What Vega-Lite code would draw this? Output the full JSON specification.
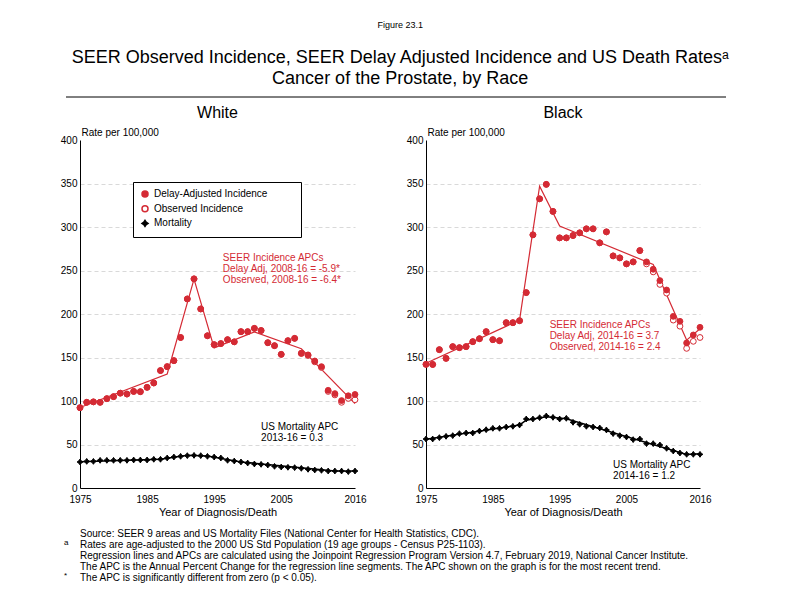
{
  "$schema": "https://vega.github.io/schema/vega-lite/v6.json",
  "padding": {"left": 60, "top": 21, "right": 5, "bottom": 5},
  "background": "white",
  "config": {
    "font": "Liberation Sans",
    "view": {"stroke": null},
    "title": {"fontWeight": "normal", "color": "black", "font": "Liberation Sans"},
    "axisX": {"ticks": false, "labelPadding": 6, "labelFontSize": 10, "labelColor": "black", "labelFlush": false, "labelOverlap": false, "titleFontSize": 11, "titleFontWeight": "normal", "titleColor": "black", "titlePadding": 2, "domainColor": "black", "grid": false},
    "axisY": {"ticks": false, "labelPadding": 3, "labelFontSize": 10, "labelColor": "black", "labelFlush": false, "labelOverlap": false, "grid": true, "gridDash": [4, 3], "gridColor": "#d9d9d9", "titleAngle": 0, "titleAlign": "left", "titleX": 1, "titleY": -5, "titleBaseline": "alphabetic", "titleFontSize": 10, "titleFontWeight": "normal", "titleColor": "black", "domainColor": "black"}
  },
  "title": {
    "text": "Figure 23.1",
    "fontSize": 9,
    "subtitle": ["SEER Observed Incidence, SEER Delay Adjusted Incidence and US Death Rates\u1d43", "Cancer of the Prostate, by Race"],
    "subtitleFontSize": 18,
    "subtitleLineHeight": 21,
    "subtitlePadding": 19,
    "subtitleColor": "black",
    "subtitleFont": "Liberation Sans",
    "anchor": "middle",
    "offset": 8
  },
  "datasets": {
    "white": [
      {"year": 1975, "Delay-Adjusted Incidence": 92.3, "Observed Incidence": 92.3, "Mortality": 29.9},
      {"year": 1976, "Delay-Adjusted Incidence": 98.5, "Observed Incidence": 98.5, "Mortality": 30.6},
      {"year": 1977, "Delay-Adjusted Incidence": 99, "Observed Incidence": 99, "Mortality": 30.6},
      {"year": 1978, "Delay-Adjusted Incidence": 98.5, "Observed Incidence": 98.5, "Mortality": 31.8},
      {"year": 1979, "Delay-Adjusted Incidence": 102.7, "Observed Incidence": 102.7, "Mortality": 31.8},
      {"year": 1980, "Delay-Adjusted Incidence": 105, "Observed Incidence": 105, "Mortality": 31.8},
      {"year": 1981, "Delay-Adjusted Incidence": 109, "Observed Incidence": 109, "Mortality": 31.8},
      {"year": 1982, "Delay-Adjusted Incidence": 108, "Observed Incidence": 108, "Mortality": 31.8},
      {"year": 1983, "Delay-Adjusted Incidence": 111, "Observed Incidence": 111, "Mortality": 32.2},
      {"year": 1984, "Delay-Adjusted Incidence": 110.7, "Observed Incidence": 110.7, "Mortality": 32.2},
      {"year": 1985, "Delay-Adjusted Incidence": 115.7, "Observed Incidence": 115.7, "Mortality": 32.2},
      {"year": 1986, "Delay-Adjusted Incidence": 120.7, "Observed Incidence": 120.7, "Mortality": 33},
      {"year": 1987, "Delay-Adjusted Incidence": 135, "Observed Incidence": 135, "Mortality": 33},
      {"year": 1988, "Delay-Adjusted Incidence": 139.5, "Observed Incidence": 139.5, "Mortality": 34.5},
      {"year": 1989, "Delay-Adjusted Incidence": 146.4, "Observed Incidence": 146.4, "Mortality": 35.6},
      {"year": 1990, "Delay-Adjusted Incidence": 173, "Observed Incidence": 173, "Mortality": 36.4},
      {"year": 1991, "Delay-Adjusted Incidence": 217.3, "Observed Incidence": 217.3, "Mortality": 37.2},
      {"year": 1992, "Delay-Adjusted Incidence": 240.4, "Observed Incidence": 240.4, "Mortality": 37.5},
      {"year": 1993, "Delay-Adjusted Incidence": 205.8, "Observed Incidence": 205.8, "Mortality": 37.2},
      {"year": 1994, "Delay-Adjusted Incidence": 175, "Observed Incidence": 175, "Mortality": 36.4},
      {"year": 1995, "Delay-Adjusted Incidence": 164.8, "Observed Incidence": 164.8, "Mortality": 35.6},
      {"year": 1996, "Delay-Adjusted Incidence": 166, "Observed Incidence": 166, "Mortality": 34.5},
      {"year": 1997, "Delay-Adjusted Incidence": 170.5, "Observed Incidence": 170.5, "Mortality": 31.8},
      {"year": 1998, "Delay-Adjusted Incidence": 168, "Observed Incidence": 168, "Mortality": 31},
      {"year": 1999, "Delay-Adjusted Incidence": 179.7, "Observed Incidence": 179.7, "Mortality": 29.9},
      {"year": 2000, "Delay-Adjusted Incidence": 179.7, "Observed Incidence": 179.7, "Mortality": 28.7},
      {"year": 2001, "Delay-Adjusted Incidence": 183.5, "Observed Incidence": 183.5, "Mortality": 27.6},
      {"year": 2002, "Delay-Adjusted Incidence": 181, "Observed Incidence": 181, "Mortality": 27.2},
      {"year": 2003, "Delay-Adjusted Incidence": 167, "Observed Incidence": 167, "Mortality": 26.4},
      {"year": 2004, "Delay-Adjusted Incidence": 163.6, "Observed Incidence": 163.6, "Mortality": 24.9},
      {"year": 2005, "Delay-Adjusted Incidence": 153.6, "Observed Incidence": 153.6, "Mortality": 24.1},
      {"year": 2006, "Delay-Adjusted Incidence": 169.3, "Observed Incidence": 169.3, "Mortality": 23.8},
      {"year": 2007, "Delay-Adjusted Incidence": 172, "Observed Incidence": 172, "Mortality": 23.4},
      {"year": 2008, "Delay-Adjusted Incidence": 155, "Observed Incidence": 154.5, "Mortality": 22.6},
      {"year": 2009, "Delay-Adjusted Incidence": 153, "Observed Incidence": 152.3, "Mortality": 21.5},
      {"year": 2010, "Delay-Adjusted Incidence": 146, "Observed Incidence": 145, "Mortality": 20.7},
      {"year": 2011, "Delay-Adjusted Incidence": 139.5, "Observed Incidence": 138.5, "Mortality": 20.3},
      {"year": 2012, "Delay-Adjusted Incidence": 112.3, "Observed Incidence": 111, "Mortality": 19.5},
      {"year": 2013, "Delay-Adjusted Incidence": 108.5, "Observed Incidence": 107, "Mortality": 19.5},
      {"year": 2014, "Delay-Adjusted Incidence": 100.5, "Observed Incidence": 98.5, "Mortality": 19.5},
      {"year": 2015, "Delay-Adjusted Incidence": 106, "Observed Incidence": 103, "Mortality": 18.8},
      {"year": 2016, "Delay-Adjusted Incidence": 107.5, "Observed Incidence": 101.5, "Mortality": 19.5}
    ],
    "white_fit": [
      {"year": 1975, "rate": 92.5}, {"year": 1988, "rate": 131}, {"year": 1992, "rate": 240},
      {"year": 1995, "rate": 161}, {"year": 2001, "rate": 179.5}, {"year": 2008, "rate": 160}, {"year": 2016, "rate": 97}
    ],
    "white_mfit": [
      {"year": 1975, "rate": 30.3}, {"year": 1987, "rate": 33}, {"year": 1991, "rate": 37.5},
      {"year": 1994, "rate": 36.8}, {"year": 1999, "rate": 30}, {"year": 2013, "rate": 19.5}, {"year": 2016, "rate": 19.6}
    ],
    "black": [
      {"year": 1975, "Delay-Adjusted Incidence": 142.1, "Observed Incidence": 142.1, "Mortality": 56.3},
      {"year": 1976, "Delay-Adjusted Incidence": 142, "Observed Incidence": 142, "Mortality": 56.3},
      {"year": 1977, "Delay-Adjusted Incidence": 159, "Observed Incidence": 159, "Mortality": 57.9},
      {"year": 1978, "Delay-Adjusted Incidence": 149, "Observed Incidence": 149, "Mortality": 59.4},
      {"year": 1979, "Delay-Adjusted Incidence": 162.5, "Observed Incidence": 162.5, "Mortality": 60.2},
      {"year": 1980, "Delay-Adjusted Incidence": 161.3, "Observed Incidence": 161.3, "Mortality": 62.5},
      {"year": 1981, "Delay-Adjusted Incidence": 162.5, "Observed Incidence": 162.5, "Mortality": 63.2},
      {"year": 1982, "Delay-Adjusted Incidence": 168.2, "Observed Incidence": 168.2, "Mortality": 63.2},
      {"year": 1983, "Delay-Adjusted Incidence": 171.6, "Observed Incidence": 171.6, "Mortality": 65.5},
      {"year": 1984, "Delay-Adjusted Incidence": 179.7, "Observed Incidence": 179.7, "Mortality": 67},
      {"year": 1985, "Delay-Adjusted Incidence": 170.5, "Observed Incidence": 170.5, "Mortality": 68.6},
      {"year": 1986, "Delay-Adjusted Incidence": 169.3, "Observed Incidence": 169.3, "Mortality": 68.6},
      {"year": 1987, "Delay-Adjusted Incidence": 190, "Observed Incidence": 190, "Mortality": 70.1},
      {"year": 1988, "Delay-Adjusted Incidence": 190, "Observed Incidence": 190, "Mortality": 70.9},
      {"year": 1989, "Delay-Adjusted Incidence": 192.3, "Observed Incidence": 192.3, "Mortality": 72.4},
      {"year": 1990, "Delay-Adjusted Incidence": 224.6, "Observed Incidence": 224.6, "Mortality": 79.3},
      {"year": 1991, "Delay-Adjusted Incidence": 291, "Observed Incidence": 291, "Mortality": 79.3},
      {"year": 1992, "Delay-Adjusted Incidence": 332.4, "Observed Incidence": 332.4, "Mortality": 80.8},
      {"year": 1993, "Delay-Adjusted Incidence": 349, "Observed Incidence": 349, "Mortality": 82.8},
      {"year": 1994, "Delay-Adjusted Incidence": 317.9, "Observed Incidence": 317.9, "Mortality": 81.2},
      {"year": 1995, "Delay-Adjusted Incidence": 287.5, "Observed Incidence": 287.5, "Mortality": 79.3},
      {"year": 1996, "Delay-Adjusted Incidence": 287.5, "Observed Incidence": 287.5, "Mortality": 80.1},
      {"year": 1997, "Delay-Adjusted Incidence": 290.2, "Observed Incidence": 290.2, "Mortality": 75.5},
      {"year": 1998, "Delay-Adjusted Incidence": 293.3, "Observed Incidence": 293.3, "Mortality": 73.2},
      {"year": 1999, "Delay-Adjusted Incidence": 297.9, "Observed Incidence": 297.9, "Mortality": 70.9},
      {"year": 2000, "Delay-Adjusted Incidence": 297.9, "Observed Incidence": 297.9, "Mortality": 70.1},
      {"year": 2001, "Delay-Adjusted Incidence": 281.8, "Observed Incidence": 281.8, "Mortality": 69},
      {"year": 2002, "Delay-Adjusted Incidence": 294.4, "Observed Incidence": 294.4, "Mortality": 66.7},
      {"year": 2003, "Delay-Adjusted Incidence": 266.8, "Observed Incidence": 266.8, "Mortality": 62.5},
      {"year": 2004, "Delay-Adjusted Incidence": 264.5, "Observed Incidence": 264.5, "Mortality": 60.2},
      {"year": 2005, "Delay-Adjusted Incidence": 257.6, "Observed Incidence": 257.6, "Mortality": 58.6},
      {"year": 2006, "Delay-Adjusted Incidence": 259.9, "Observed Incidence": 259.9, "Mortality": 55.6},
      {"year": 2007, "Delay-Adjusted Incidence": 272.9, "Observed Incidence": 272.9, "Mortality": 56.3},
      {"year": 2008, "Delay-Adjusted Incidence": 259.9, "Observed Incidence": 257.6, "Mortality": 51},
      {"year": 2009, "Delay-Adjusted Incidence": 251.4, "Observed Incidence": 248.4, "Mortality": 51},
      {"year": 2010, "Delay-Adjusted Incidence": 238.4, "Observed Incidence": 234, "Mortality": 49.4},
      {"year": 2011, "Delay-Adjusted Incidence": 227.6, "Observed Incidence": 224, "Mortality": 45.6},
      {"year": 2012, "Delay-Adjusted Incidence": 197.3, "Observed Incidence": 193, "Mortality": 42.5},
      {"year": 2013, "Delay-Adjusted Incidence": 191.6, "Observed Incidence": 186, "Mortality": 40.2},
      {"year": 2014, "Delay-Adjusted Incidence": 166.7, "Observed Incidence": 160.5, "Mortality": 38.7},
      {"year": 2015, "Delay-Adjusted Incidence": 175.9, "Observed Incidence": 168.6, "Mortality": 38.7},
      {"year": 2016, "Delay-Adjusted Incidence": 184.7, "Observed Incidence": 173, "Mortality": 38.7}
    ],
    "black_fit": [
      {"year": 1975, "rate": 143.3}, {"year": 1989, "rate": 193}, {"year": 1992, "rate": 347},
      {"year": 1995, "rate": 301}, {"year": 2009, "rate": 257}, {"year": 2014, "rate": 170}, {"year": 2016, "rate": 183}
    ],
    "black_mfit": [
      {"year": 1975, "rate": 56}, {"year": 1989, "rate": 72.5}, {"year": 1990, "rate": 78},
      {"year": 1993, "rate": 82}, {"year": 1996, "rate": 79.5}, {"year": 2014, "rate": 38.5}, {"year": 2016, "rate": 39.4}
    ],
    "notes": [
      {"line": 1, "marker": "", "note": "Source: SEER 9 areas and US Mortality Files (National Center for Health Statistics, CDC)."},
      {"line": 2, "marker": "a", "note": "Rates are age-adjusted to the 2000 US Std Population (19 age groups - Census P25-1103)."},
      {"line": 3, "marker": "", "note": "Regression lines and APCs are calculated using the Joinpoint Regression Program Version 4.7, February 2019, National Cancer Institute."},
      {"line": 4, "marker": "", "note": "The APC is the Annual Percent Change for the regression line segments. The APC shown on the graph is for the most recent trend."},
      {"line": 5, "marker": "*", "note": "The APC is significantly different from zero (p < 0.05)."}
    ]
  },
  "spacing": 7,
  "vconcat": [
    {
      "width": 660,
      "height": 1,
      "data": {"values": [{}]},
      "mark": {"type": "rule", "color": "black", "strokeWidth": 1, "clip": false},
      "encoding": {
        "x": {"datum": -14, "type": "quantitative", "scale": {"domain": [0, 660]}, "axis": null},
        "x2": {"datum": 646},
        "y": {"datum": 0, "type": "quantitative", "scale": {"domain": [0, 1]}, "axis": null}
      }
    },
    {
      "spacing": 39,
      "resolve": {"scale": {"fill": "independent", "stroke": "independent", "shape": "independent"}, "legend": {"fill": "independent", "stroke": "independent", "shape": "independent"}},
      "hconcat": [
        {
          "width": 275,
          "height": 348,
          "title": {"text": "White", "fontSize": 16, "offset": 6},
          "layer": [
            {"data": {"name": "white_fit"}, "mark": {"type": "line", "color": "#d42a34", "strokeWidth": 1.2},
             "encoding": {
               "x": {"field": "year", "type": "quantitative", "scale": {"domain": [1975, 2016], "nice": false, "zero": false},
                     "axis": {"values": [1975, 1985, 1995, 2005, 2016], "format": "d", "title": "Year of Diagnosis/Death"}},
               "y": {"field": "rate", "type": "quantitative", "scale": {"domain": [0, 400], "nice": false},
                     "axis": {"values": [0, 50, 100, 150, 200, 250, 300, 350, 400], "title": "Rate per 100,000",
                              "gridOpacity": {"condition": {"test": "datum.value === 400 || datum.value === 0", "value": 0}, "value": 1}}}
             }},
            {"data": {"name": "white_mfit"}, "mark": {"type": "line", "color": "black", "strokeWidth": 1.5},
             "encoding": {"x": {"field": "year", "type": "quantitative"}, "y": {"field": "rate", "type": "quantitative"}}},
            {
              "data": {"name": "white"},
              "transform": [{"fold": ["Observed Incidence", "Delay-Adjusted Incidence", "Mortality"], "as": ["series", "rate"]}],
              "mark": {"type": "point", "size": 34, "strokeWidth": 1, "opacity": 1},
              "encoding": {
                "x": {"field": "year", "type": "quantitative"},
                "y": {"field": "rate", "type": "quantitative"},
                "fill": {"field": "series", "type": "nominal",
                         "scale": {"domain": ["Delay-Adjusted Incidence", "Observed Incidence", "Mortality"], "range": ["#d42a34", "white", "black"]},
                         "legend": {"orient": "none", "legendX": 53, "legendY": 42, "title": "MMM", "titleColor": "transparent", "titleOrient": "right", "titlePadding": 2, "titleFontSize": 10,
                                    "labelFontSize": 10, "labelColor": "black",
                                    "padding": 7, "strokeColor": "black", "fillColor": "white", "rowPadding": 2.7, "symbolSize": 36}},
                "stroke": {"field": "series", "type": "nominal",
                           "scale": {"domain": ["Delay-Adjusted Incidence", "Observed Incidence", "Mortality"], "range": ["#d42a34", "#d42a34", "black"]}},
                "shape": {"field": "series", "type": "nominal",
                          "scale": {"domain": ["Delay-Adjusted Incidence", "Observed Incidence", "Mortality"],
                                    "range": ["circle", "circle", "M0,-1L0.4,-0.4L1,0L0.4,0.4L0,1L-0.4,0.4L-1,0L-0.4,-0.4Z"]}}
              }
            },
            {
              "data": {"values": [{"txt": ["SEER Incidence APCs", "Delay Adj, 2008-16 = -5.9*", "Observed, 2008-16 = -6.4*"]}]},
              "mark": {"type": "text", "align": "left", "baseline": "top", "fontSize": 10, "lineHeight": 11, "color": "#d42a34"},
              "encoding": {"x": {"datum": 1996.3, "type": "quantitative"}, "y": {"datum": 270, "type": "quantitative"},
                           "text": {"field": "txt"}}
            },
            {
              "data": {"values": [{"txt": ["US Mortality APC", "2013-16 = 0.3"]}]},
              "mark": {"type": "text", "align": "left", "baseline": "top", "fontSize": 10, "lineHeight": 11, "color": "black"},
              "encoding": {"x": {"datum": 2002, "type": "quantitative"}, "y": {"datum": 76, "type": "quantitative"},
                           "text": {"field": "txt"}}
            }
          ]
        },
        {
          "width": 274,
          "height": 348,
          "title": {"text": "Black", "fontSize": 16, "offset": 6},
          "layer": [
            {"data": {"name": "black_fit"}, "mark": {"type": "line", "color": "#d42a34", "strokeWidth": 1.2},
             "encoding": {
               "x": {"field": "year", "type": "quantitative", "scale": {"domain": [1975, 2016], "nice": false, "zero": false},
                     "axis": {"values": [1975, 1985, 1995, 2005, 2016], "format": "d", "title": "Year of Diagnosis/Death"}},
               "y": {"field": "rate", "type": "quantitative", "scale": {"domain": [0, 400], "nice": false},
                     "axis": {"values": [0, 50, 100, 150, 200, 250, 300, 350, 400], "title": "Rate per 100,000",
                              "gridOpacity": {"condition": {"test": "datum.value === 400 || datum.value === 0", "value": 0}, "value": 1}}}
             }},
            {"data": {"name": "black_mfit"}, "mark": {"type": "line", "color": "black", "strokeWidth": 1.5},
             "encoding": {"x": {"field": "year", "type": "quantitative"}, "y": {"field": "rate", "type": "quantitative"}}},
            {
              "data": {"name": "black"},
              "transform": [{"fold": ["Observed Incidence", "Delay-Adjusted Incidence", "Mortality"], "as": ["series", "rate"]}],
              "mark": {"type": "point", "size": 34, "strokeWidth": 1, "opacity": 1},
              "encoding": {
                "x": {"field": "year", "type": "quantitative"},
                "y": {"field": "rate", "type": "quantitative"},
                "fill": {"field": "series", "type": "nominal",
                         "scale": {"domain": ["Delay-Adjusted Incidence", "Observed Incidence", "Mortality"], "range": ["#d42a34", "white", "black"]},
                         "legend": null},
                "stroke": {"field": "series", "type": "nominal",
                           "scale": {"domain": ["Delay-Adjusted Incidence", "Observed Incidence", "Mortality"], "range": ["#d42a34", "#d42a34", "black"]},
                           "legend": null},
                "shape": {"field": "series", "type": "nominal",
                          "scale": {"domain": ["Delay-Adjusted Incidence", "Observed Incidence", "Mortality"],
                                    "range": ["circle", "circle", "M0,-1L0.4,-0.4L1,0L0.4,0.4L0,1L-0.4,0.4L-1,0L-0.4,-0.4Z"]},
                          "legend": null}
              }
            },
            {
              "data": {"values": [{"txt": ["SEER Incidence APCs", "Delay Adj, 2014-16 = 3.7", "Observed, 2014-16 = 2.4"]}]},
              "mark": {"type": "text", "align": "left", "baseline": "top", "fontSize": 10, "lineHeight": 11, "color": "#d42a34"},
              "encoding": {"x": {"datum": 1993.5, "type": "quantitative"}, "y": {"datum": 193, "type": "quantitative"},
                           "text": {"field": "txt"}}
            },
            {
              "data": {"values": [{"txt": ["US Mortality APC", "2014-16 = 1.2"]}]},
              "mark": {"type": "text", "align": "left", "baseline": "top", "fontSize": 10, "lineHeight": 11, "color": "black"},
              "encoding": {"x": {"datum": 2003, "type": "quantitative"}, "y": {"datum": 32, "type": "quantitative"},
                           "text": {"field": "txt"}}
            }
          ]
        }
      ]
    },
    {
      "width": 660,
      "height": 64,
      "data": {"name": "notes"},
      "encoding": {
        "y": {"field": "line", "type": "ordinal", "axis": null, "scale": {"type": "point", "padding": 0.91}},
        "x": {"value": 0}
      },
      "layer": [
        {"mark": {"type": "text", "align": "left", "baseline": "middle", "fontSize": 10, "dx": 0, "color": "black"},
         "encoding": {"text": {"field": "note"}}},
        {"mark": {"type": "text", "align": "left", "baseline": "middle", "fontSize": 8, "dx": -16, "dy": -2, "color": "black"},
         "encoding": {"text": {"field": "marker"}}}
      ]
    }
  ]
}
